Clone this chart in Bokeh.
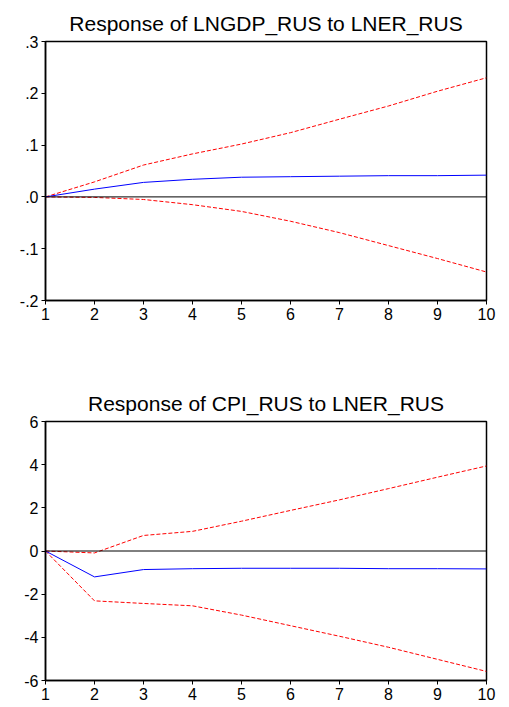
from bokeh.plotting import figure
from bokeh.layouts import column
from bokeh.models import FixedTicker, Range1d, Span
from bokeh.embed import file_html
from bokeh.resources import INLINE

periods = [1, 2, 3, 4, 5, 6, 7, 8, 9, 10]

gdp_resp = [0.0, 0.015, 0.028, 0.034, 0.038, 0.039, 0.040, 0.041, 0.041, 0.042]
gdp_upper = [0.0, 0.029, 0.0615, 0.083, 0.102, 0.124, 0.150, 0.1755, 0.204, 0.230]
gdp_lower = [0.0, -0.001, -0.005, -0.015, -0.028, -0.047, -0.069, -0.094, -0.119, -0.145]
gdp_ticks = [-0.2, -0.1, 0.0, 0.1, 0.2, 0.3]
gdp_tick_labels = ["-.2", "-.1", ".0", ".1", ".2", ".3"]

cpi_resp = [0.0, -1.20, -0.86, -0.82, -0.80, -0.80, -0.80, -0.82, -0.82, -0.83]
cpi_upper = [0.0, -0.09, 0.72, 0.91, 1.38, 1.88, 2.37, 2.89, 3.42, 3.94]
cpi_lower = [0.0, -2.31, -2.43, -2.54, -2.97, -3.46, -3.95, -4.46, -5.02, -5.58]
cpi_ticks = [-6, -4, -2, 0, 2, 4, 6]
cpi_tick_labels = ["-6", "-4", "-2", "0", "2", "4", "6"]

FONT = "Liberation Sans"


def make_panel(title, resp, upper, lower, yticks, ylabels, height, border_top, border_bottom):
    p = figure(width=498, height=height, output_backend="svg", toolbar_location=None,
               x_range=Range1d(1, 10), y_range=Range1d(yticks[0], yticks[-1]),
               min_border_left=45, min_border_right=12,
               min_border_top=border_top, min_border_bottom=border_bottom)
    p.title.text = title
    p.title.align = "center"
    p.title.vertical_align = "top"
    p.title.text_font = FONT
    p.title.text_font_size = "21px"
    p.title.text_font_style = "normal"
    p.title.text_color = "black"
    p.title.standoff = 10
    p.grid.visible = False
    p.outline_line_color = "black"
    p.outline_line_width = 1.5
    p.outline_line_alpha = 1

    p.xaxis.ticker = FixedTicker(ticks=periods)
    p.yaxis.ticker = FixedTicker(ticks=yticks)
    p.yaxis.major_label_overrides = {t: l for t, l in zip(yticks, ylabels)}
    for ax in (p.xaxis[0], p.yaxis[0]):
        ax.axis_line_color = "black"
        ax.axis_line_width = 1.5
        ax.major_tick_line_color = "black"
        ax.major_tick_in = 0
        ax.major_tick_out = 4
        ax.minor_tick_line_color = None
        ax.major_label_text_font = FONT
        ax.major_label_text_font_size = "16px"
        ax.major_label_text_color = "black"
    p.xaxis.major_label_standoff = 3
    p.yaxis.major_label_standoff = 3

    p.add_layout(Span(location=0, dimension="width", line_color="black", line_width=1))
    p.line(periods, upper, line_color="red", line_width=1, line_dash="4 2")
    p.line(periods, lower, line_color="red", line_width=1, line_dash="4 2")
    p.line(periods, resp, line_color="blue", line_width=1)
    return p


p1 = make_panel("Response of LNGDP_RUS to LNER_RUS", gdp_resp, gdp_upper, gdp_lower,
                gdp_ticks, gdp_tick_labels, 330, 41, 30)
p2 = make_panel("Response of CPI_RUS to LNER_RUS", cpi_resp, cpi_upper, cpi_lower,
                cpi_ticks, cpi_tick_labels, 375, 91, 25)

layout = column(p1, p2, spacing=0)
open("out.html", "w").write(file_html(layout, INLINE))
